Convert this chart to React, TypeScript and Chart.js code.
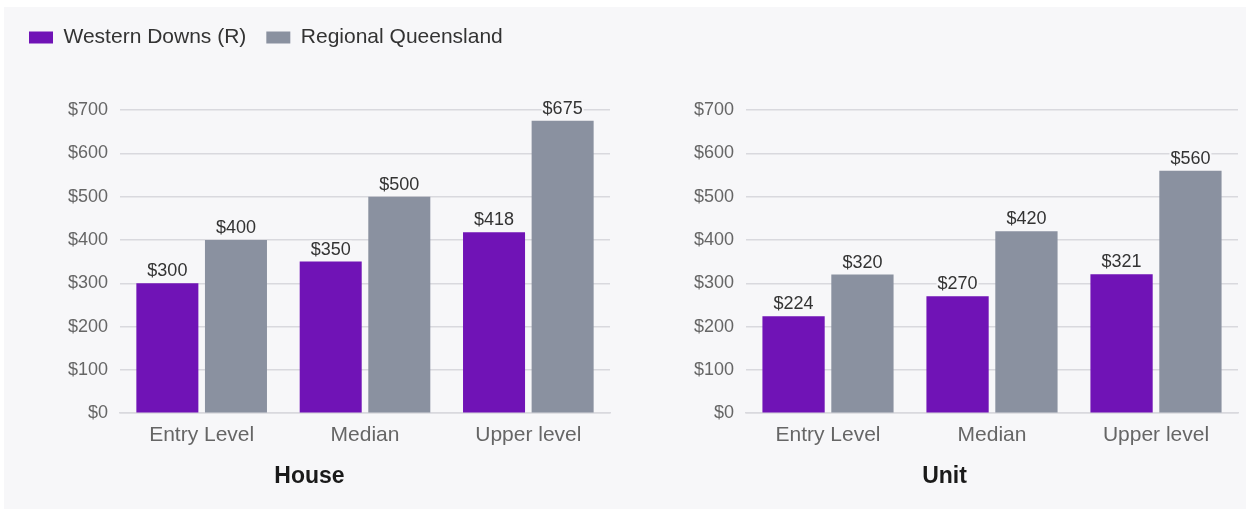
import React, { useEffect, useRef } from 'react';
import { Chart, registerables } from 'chart.js';

Chart.register(...registerables);

const categories = ['Entry Level', 'Median', 'Upper level'];
const seriesNames = ['Western Downs (R)', 'Regional Queensland'];
const houseWestern = [300, 350, 418];
const houseRegional = [400, 500, 675];
const unitWestern = [224, 270, 321];
const unitRegional = [320, 420, 560];
const yMax = 700;
const yStep = 100;

const FONT = '"Liberation Sans", Arial, Helvetica, sans-serif';
const PANEL_BG = '#f7f7f9';
const PURPLE = '#7013b6';
const GRAY = '#8a91a0';
const GRID = '#d9d9de';

const valueLabels = {
  id: 'valueLabels',
  afterDatasetsDraw(chart: any) {
    const ctx = chart.ctx;
    ctx.save();
    ctx.font = `18px ${FONT}`;
    ctx.textAlign = 'center';
    ctx.textBaseline = 'alphabetic';
    chart.data.datasets.forEach((ds: any, i: number) => {
      const meta = chart.getDatasetMeta(i);
      meta.data.forEach((el: any, j: number) => {
        const text = '$' + ds.data[j];
        const w = ctx.measureText(text).width;
        ctx.fillStyle = PANEL_BG;
        ctx.fillRect(el.x - w / 2 - 1, el.y - 7 - 14, w + 2, 16);
        ctx.fillStyle = '#333333';
        ctx.fillText(text, el.x, el.y - 7);
      });
    });
    ctx.restore();
  },
};

const legendSpacer = {
  id: 'legendSpacer',
  beforeInit(chart: any) {
    if (!chart.legend) return;
    const origFit = chart.legend.fit;
    chart.legend.fit = function () {
      origFit.bind(chart.legend)();
      if (this.options && this.options.display) this.height += 52;
    };
  },
};

type PanelProps = {
  title: string;
  western: number[];
  regional: number[];
  showLegend: boolean;
  width: number;
  height: number;
  padding: { left: number; right: number; top: number; bottom: number };
  yWidth: number;
};

function BarPanel(props: PanelProps) {
  const ref = useRef<HTMLCanvasElement | null>(null);
  useEffect(() => {
    if (!ref.current) return;
    const chart = new Chart(ref.current, {
      type: 'bar',
      data: {
        labels: categories,
        datasets: [
          {
            label: seriesNames[0],
            data: props.western,
            backgroundColor: PURPLE,
            borderWidth: 0,
            categoryPercentage: 0.84,
            barPercentage: 0.904,
          },
          {
            label: seriesNames[1],
            data: props.regional,
            backgroundColor: GRAY,
            borderWidth: 0,
            categoryPercentage: 0.84,
            barPercentage: 0.904,
          },
        ],
      },
      options: {
        animation: false,
        responsive: false,
        devicePixelRatio: 1,
        layout: { padding: props.padding },
        plugins: {
          legend: {
            display: props.showLegend,
            position: 'top',
            align: 'start',
            labels: {
              boxWidth: 24,
              boxHeight: 12,
              padding: 20,
              color: '#333333',
              font: { size: 21, family: FONT },
            },
          },
          title: {
            display: true,
            text: props.title,
            position: 'bottom',
            color: '#1a1a1a',
            font: { size: 23, weight: 'bold', family: FONT },
            padding: { top: 6, bottom: 10 },
          },
          tooltip: { enabled: false },
        },
        scales: {
          x: {
            grid: { display: false, drawTicks: false },
            border: { display: true, color: GRID, width: 1.5 },
            ticks: { color: '#666666', font: { size: 21, family: FONT }, padding: 9 },
          },
          y: {
            min: 0,
            max: yMax,
            grid: { color: GRID, lineWidth: 1.5, drawTicks: false },
            border: { display: false },
            ticks: {
              stepSize: yStep,
              color: '#666666',
              font: { size: 18, family: FONT },
              padding: 12,
              callback: (v: any) => '$' + v,
            },
            afterFit: (scale: any) => {
              scale.width = props.yWidth;
            },
          },
        },
      } as any,
      plugins: [valueLabels, legendSpacer],
    });
    return () => chart.destroy();
  }, []);
  return <canvas ref={ref} width={props.width} height={props.height} style={{ display: 'block', width: props.width, height: props.height }} />;
}

export default function App() {
  return (
    <div style={{ position: 'absolute', left: 0, top: 0, width: 1260, height: 511, background: '#ffffff', fontFamily: FONT }}>
      <div style={{ position: 'absolute', left: 4, top: 7, width: 1242, height: 502, background: PANEL_BG }} />
      <div style={{ position: 'absolute', left: 4, top: 7 }}>
        <BarPanel
          title="House"
          western={houseWestern}
          regional={houseRegional}
          showLegend={true}
          width={630}
          height={502}
          padding={{ left: 5, right: 24, top: 0, bottom: 9 }}
          yWidth={111}
        />
      </div>
      <div style={{ position: 'absolute', left: 646, top: 7 }}>
        <BarPanel
          title="Unit"
          western={unitWestern}
          regional={unitRegional}
          showLegend={false}
          width={600}
          height={502}
          padding={{ left: 5, right: 8, top: 103, bottom: 9 }}
          yWidth={95}
        />
      </div>
    </div>
  );
}
